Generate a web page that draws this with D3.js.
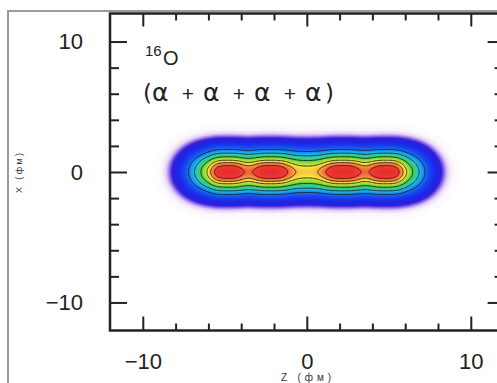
<!DOCTYPE html>
<html>
<head>
<meta charset="utf-8">
<script src="https://cdn.jsdelivr.net/npm/d3@7"></script>
<style>
  html, body { margin: 0; padding: 0; background: #fff; }
  svg { display: block; font-family: "Liberation Sans", Arial, sans-serif; }
</style>
</head>
<body>
<div id="chart"></div>
<script>
// Axis ticks (fm)
const zMajor = [-10, 0, 10];
const zMinor = [-8, -6, -4, -2, 2, 4, 6, 8];
const xMajor = [-10, 0, 10];
const xMinor = [-8, -6, -4, -2, 2, 4, 6, 8];

// Alpha cluster positions along the chain (z, fm), weights and widths
const clusterZ = [-4.8, -2.2, 2.2, 4.8];
const clusterAmp = [0.24, 0.24, 0.24, 0.24];
const clusterHalfWidth = [0.85, 1.0, 1.0, 0.85];   // along z, fm
const clusterThickness = [1.0];                    // along x, fm

// Density between the clusters, and how the chain falls off
const baseLevel = [0.76];
const coreHalfLength = [5.35];
const endFalloff = [1.83, 2.2];        // [scale fm, power]
const widthSigma = [1.09];             // transverse (x) width, fm

// Levels (relative density) of the black contour lines
const lineLevels = [0.27, 0.4, 0.55, 0.7, 0.8, 0.9];

// Colour ramp for the density
const rampStops = [0, 0.008, 0.02, 0.035, 0.05, 0.1, 0.2, 0.3, 0.4, 0.55, 0.65, 0.72, 0.8, 0.86, 0.91, 1];
const rampColors = ['#ffffff', '#faf4fd', '#e2d2f6', '#8c64ec', '#3020d8', '#1c28e8', '#1850f0', '#1a8cf0',
  '#22c8e6', '#48d048', '#b0e038', '#f8e840', '#f8b040', '#f4783c', '#ee4036', '#e82e2e'];

const width = 497, height = 383;

const x = d3.scaleLinear().domain([-12, 12]).range([110, 503.6]);
const y = d3.scaleLinear().domain([-12.15, 12.15]).range([330.5, 13.5]);
const color = d3.scaleLinear().domain(rampStops).range(rampColors).clamp(true);

const svg = d3.select('#chart').append('svg')
  .attr('width', width)
  .attr('height', height);

// outer grey frame of the figure
svg.append('path')
  .attr('d', `M8,${height} V11 H${width}`)
  .attr('fill', 'none')
  .attr('stroke', '#9a9a9a')
  .attr('stroke-width', 2);

svg.append('clipPath').attr('id', 'plot-clip')
  .append('rect')
  .attr('x', x.range()[0]).attr('y', y.range()[1])
  .attr('width', x.range()[1] - x.range()[0])
  .attr('height', y.range()[0] - y.range()[1]);

// density on a grid
function gauss(d, s) {
  return Math.exp(-(d * d) / (2 * s * s));
}
// flat-topped bump so the clusters look like round blobs
function bump(d, s) {
  return Math.exp(-0.5 * Math.pow(Math.abs(d) / s, 3));
}
function density(z, xx) {
  const over = Math.max(Math.abs(z) - coreHalfLength[0], 0);
  const ends = Math.exp(-Math.pow(over / endFalloff[0], endFalloff[1]));
  let v = baseLevel[0] * gauss(xx, widthSigma[0]);
  clusterZ.forEach((cz, i) => {
    v += clusterAmp[i] * bump(z - cz, clusterHalfWidth[i]) * gauss(xx, clusterThickness[0]);
  });
  return ends * v;
}

const nz = 320, nx = 320;
const z0 = x.domain()[0], dzStep = (x.domain()[1] - x.domain()[0]) / nz;
const x0 = y.domain()[0], dxStep = (y.domain()[1] - y.domain()[0]) / nx;
const values = new Float64Array(nz * nx);
for (let j = 0; j < nx; j++) {
  for (let i = 0; i < nz; i++) {
    values[j * nz + i] = density(z0 + (i + 0.5) * dzStep, x0 + (j + 0.5) * dxStep);
  }
}
const vmax = d3.max(values);
for (let k = 0; k < values.length; k++) values[k] /= vmax;

// grid coords -> pixels
const toPixels = d3.geoPath(d3.geoTransform({
  point(px, py) {
    this.stream.point(x(z0 + px * dzStep), y(x0 + py * dxStep));
  }
}));

const plot = svg.append('g').attr('clip-path', 'url(#plot-clip)');

// filled bands, many thin steps so it reads as a smooth gradient
const fillLevels = d3.range(0.003, 1, 0.005);
const contours = d3.contours().size([nz, nx]);
plot.append('g').selectAll('path')
  .data(contours.thresholds(fillLevels)(values))
  .enter()
  .append('path')
  .attr('d', toPixels)
  .attr('fill', d => color(d.value));

// black contour lines
plot.append('g').selectAll('path')
  .data(contours.thresholds(lineLevels)(values))
  .enter()
  .append('path')
  .attr('d', toPixels)
  .attr('fill', 'none')
  .attr('stroke', d => d.value > 0.85 ? '#4a1410' : '#1a1a1a')
  .attr('stroke-opacity', 0.85)
  .attr('stroke-width', 1);

// axes, ticks pointing inward on all four sides
const fmt = d3.format('d');
function styleAxis(g) {
  g.select('.domain').remove();
  g.selectAll('.tick line').attr('stroke', '#222').attr('stroke-width', 2);
  g.selectAll('.tick text').attr('fill', '#222').attr('font-size', 22);
}
const plotBottom = y.range()[0], plotTop = y.range()[1];
const plotLeft = x.range()[0], plotRight = x.range()[1];

svg.append('g').attr('transform', `translate(0,${plotBottom})`)
  .call(d3.axisBottom(x).tickValues(zMinor).tickSize(-7).tickFormat('')).call(styleAxis);
svg.append('g').attr('transform', `translate(0,${plotBottom})`)
  .call(d3.axisBottom(x).tickValues(zMajor).tickSize(-14).tickPadding(23).tickFormat(fmt)).call(styleAxis);
svg.append('g').attr('transform', `translate(0,${plotTop})`)
  .call(d3.axisTop(x).tickValues(zMinor).tickSize(-7).tickFormat('')).call(styleAxis);
svg.append('g').attr('transform', `translate(0,${plotTop})`)
  .call(d3.axisTop(x).tickValues(zMajor).tickSize(-13).tickFormat('')).call(styleAxis);

svg.append('g').attr('transform', `translate(${plotLeft},0)`)
  .call(d3.axisLeft(y).tickValues(xMinor).tickSize(-9).tickFormat('')).call(styleAxis);
svg.append('g').attr('transform', `translate(${plotLeft},0)`)
  .call(d3.axisLeft(y).tickValues(xMajor).tickSize(-17).tickPadding(27).tickFormat(fmt)).call(styleAxis);
svg.append('g').attr('transform', `translate(${plotRight},0)`)
  .call(d3.axisRight(y).tickValues(xMinor).tickSize(-9).tickFormat('')).call(styleAxis);
svg.append('g').attr('transform', `translate(${plotRight},0)`)
  .call(d3.axisRight(y).tickValues(xMajor).tickSize(-16).tickFormat('')).call(styleAxis);

// plot frame
svg.append('rect')
  .attr('x', plotLeft).attr('y', plotTop)
  .attr('width', plotRight - plotLeft).attr('height', plotBottom - plotTop)
  .attr('fill', 'none')
  .attr('stroke', '#222')
  .attr('stroke-width', 2.5);

// axis titles
svg.append('text')
  .attr('x', 306).attr('y', 381)
  .attr('text-anchor', 'middle')
  .attr('font-size', 10)
  .attr('fill', '#333')
  .attr('textLength', 50)
  .attr('lengthAdjust', 'spacing')
  .text('Z (фм)');

svg.append('text')
  .attr('transform', 'translate(22,173) rotate(-90)')
  .attr('text-anchor', 'middle')
  .attr('font-size', 9)
  .attr('fill', '#333')
  .attr('textLength', 40)
  .attr('lengthAdjust', 'spacing')
  .text('X (фм)');

// nucleus label
svg.append('text')
  .attr('x', 145).attr('y', 56)
  .attr('font-size', 15)
  .attr('fill', '#222')
  .text('16');
svg.append('text')
  .attr('x', 163).attr('y', 65)
  .attr('font-size', 20)
  .attr('fill', '#222')
  .text('O');

// (α + α + α + α), each glyph placed as in the figure
const formula = svg.append('g').attr('fill', '#222');
formula.append('text').attr('x', 143).attr('y', 101)
  .attr('font-family', 'DejaVu Sans').attr('font-size', 23).text('(');
[152, 203, 254, 305].forEach(px => {
  formula.append('text').attr('x', px).attr('y', 101)
    .attr('font-family', 'DejaVu Sans').attr('font-size', 25).text('α');
});
[188, 239, 290].forEach(px => {
  formula.append('text').attr('x', px).attr('y', 101)
    .attr('text-anchor', 'middle').attr('font-size', 21).text('+');
});
formula.append('text').attr('x', 325).attr('y', 101)
  .attr('font-family', 'DejaVu Sans').attr('font-size', 23).text(')');
</script>
</body>
</html>
